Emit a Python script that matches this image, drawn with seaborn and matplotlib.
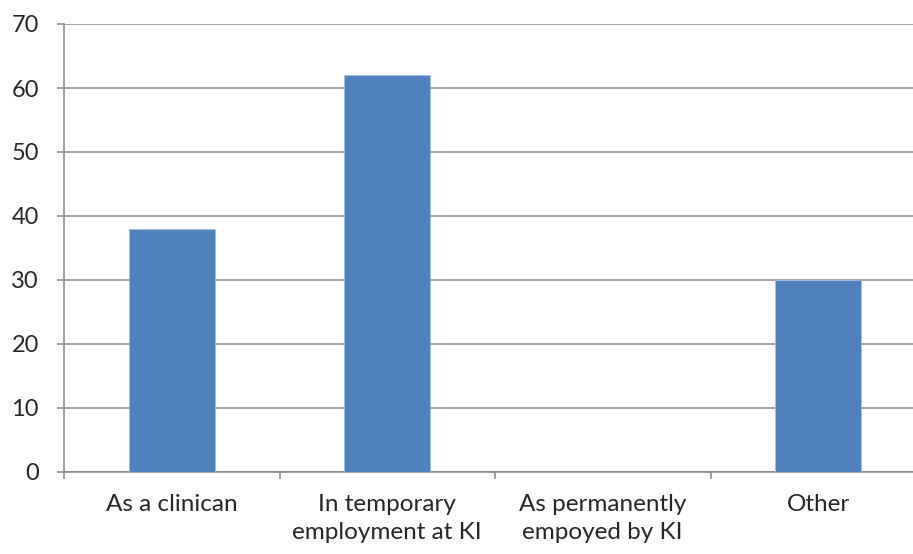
import numpy as np
import pandas as pd

import seaborn as sea
import matplotlib.pyplot as plt

sea.set_style("white")
plt.rcParams["font.family"] = ["Lato", "DejaVu Sans"]

categories = ["As a clinican", "In temporary\nemployment at KI",
              "As permanently\nempoyed by KI", "Other"]
counts = [38, 62, 0, 30]

df = pd.DataFrame({"category": categories, "count": counts})

GRID = "#868686"
BLUE = "#4F81BD"

fig = plt.figure(figsize=(9.13, 5.54), dpi=100)
# axes run a little past the right edge, as in the original
ax = fig.add_axes([64/913, 82/554, 862/913, 448/554])

sea.barplot(data=df, x="category", y="count", color=BLUE, width=0.4,
    saturation=1, edgecolor="#A7BFDE", linewidth=0.6, ax=ax, zorder=3)

ax.set_ylim(0, 70)
ax.set_xlim(-0.5, 3.5)
ax.yaxis.set(major_locator=plt.MultipleLocator(10))
ax.grid(axis="y", color=GRID, linewidth=1.1, zorder=0)
ax.set_axisbelow(True)

# ticks at category boundaries, labels centered
ax.set_xticks(np.arange(4))
ax.set_xticklabels(categories, linespacing=1.4)
ax.set_xticks(np.arange(-0.5, 4), minor=True)
ax.tick_params(axis="x", which="major", length=0, pad=16, labelsize=17.5)
ax.tick_params(axis="x", which="minor", length=5, width=1.1, color=GRID,
    direction="out", bottom=True)
ax.tick_params(axis="y", length=5, width=1.1, color=GRID, direction="out",
    left=True, pad=13, labelsize=17)

for s in ["top", "right"]:
    ax.spines[s].set_visible(False)
for s in ["left", "bottom"]:
    ax.spines[s].set_color(GRID)
    ax.spines[s].set_linewidth(1.1)

ax.set_xlabel("")
ax.set_ylabel("")

plt.savefig("out.png")
plt.close()
